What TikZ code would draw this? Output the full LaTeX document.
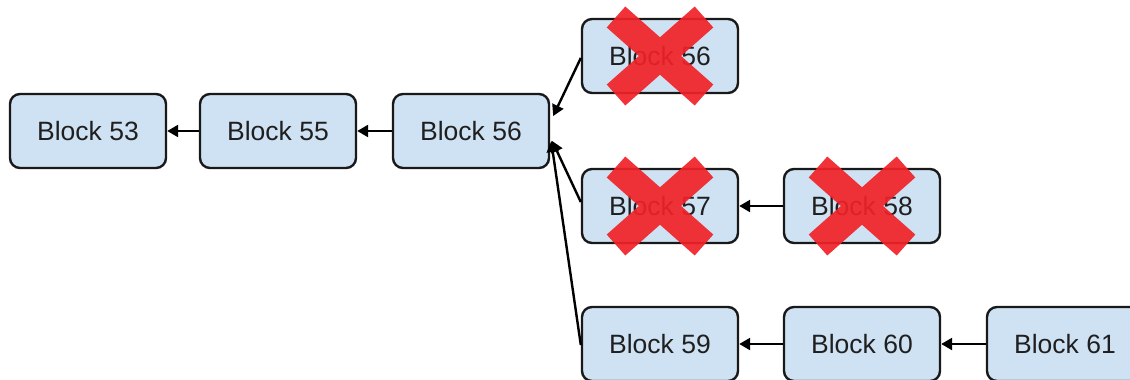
\documentclass[tikz,border=0pt]{standalone}
\usepackage{fontspec}
\setmainfont{Liberation Sans}
\usetikzlibrary{arrows.meta,calc}
\definecolor{boxfill}{RGB}{207,226,243}
\definecolor{boxline}{RGB}{25,25,25}
\definecolor{xred}{RGB}{240,34,40}
\tikzset{
  blk/.style={draw=boxline, fill=boxfill, line width=2.4pt, rounded corners=10pt,
    minimum width=156pt, minimum height=74pt, inner sep=0pt,
    text=black!88, font=\fontsize{26.5}{30}\selectfont},
  arr/.style={draw=black, line width=2.4pt, -{Triangle[length=11pt,width=12pt]}},
  cross/.style={draw=xred, line width=28pt, line cap=butt, opacity=0.92}
}
\newcommand{\crossout}[1]{%
  \draw[cross] ($(#1)+(-44,-39)$) -- ($(#1)+(44,39)$)
               ($(#1)+(44,-39)$) -- ($(#1)+(-44,39)$);
}
\begin{document}
\begin{tikzpicture}[x=1pt,y=-1pt]
\useasboundingbox (0,0) rectangle (1130,380);
\clip (0,0) rectangle (1130,380);
\node[blk] (b53) at (88,131) {Block 53};
\node[blk] (b55) at (278,131) {Block 55};
\node[blk] (b56) at (471,131) {Block 56};
\node[blk] (b56x) at (660,56) {Block 56};
\node[blk] (b57) at (660,206) {Block 57};
\node[blk] (b58) at (862,206) {Block 58};
\node[blk] (b59) at (660,344) {Block 59};
\node[blk] (b60) at (862,344) {Block 60};
\node[blk] (b61) at (1065,344) {Block 61};
\draw[arr] (b55) -- (b53);
\draw[arr] (b56) -- (b55);
\draw[arr] (b58) -- (b57);
\draw[arr] (b60) -- (b59);
\draw[arr] (b61) -- (b60);
\draw[arr] ($(b56x.west)+(0,2)$) -- ($(b56.east)+(3,-15)$);
\draw[arr] ($(b57.west)+(0,-4)$) -- ($(b56.east)+(2,10)$);
\draw[arr] ($(b59.west)+(0,1)$) -- ($(b56.east)+(1,10)$);
\crossout{b56x}
\crossout{b57}
\crossout{b58}
\end{tikzpicture}
\end{document}
